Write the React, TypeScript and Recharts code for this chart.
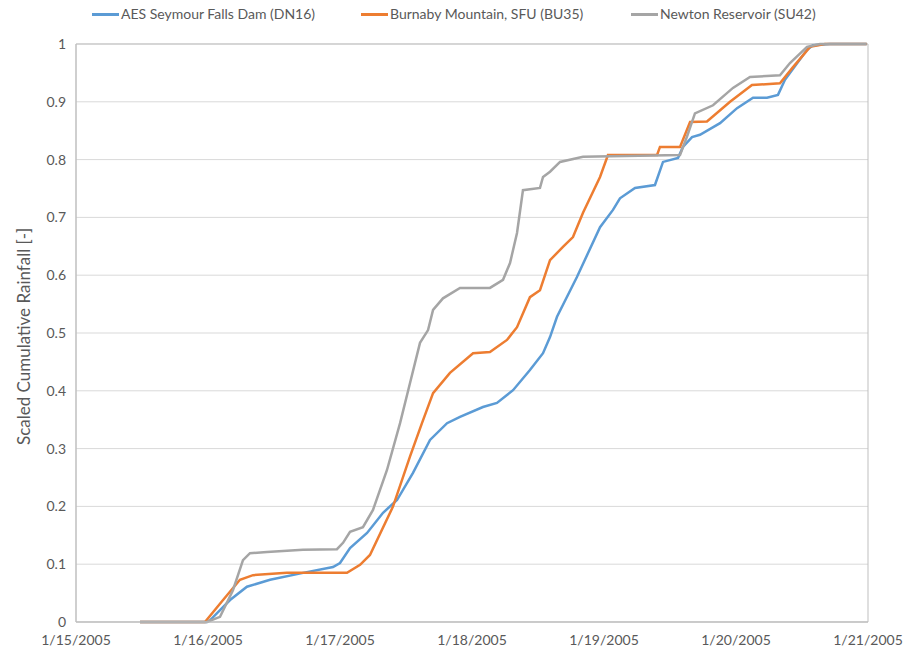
import React from 'react';
import { LineChart, Line, XAxis, YAxis, CartesianGrid, ReferenceArea } from 'recharts';

// days since 1/15/2005, scaled cumulative rainfall
const dn16Days = [0.485, 0.992, 1.015, 1.167, 1.295, 1.47, 1.72, 1.947, 2.0, 2.076, 2.205, 2.326, 2.432, 2.553, 2.682, 2.811, 2.909, 3.083, 3.189, 3.311, 3.439, 3.538, 3.591, 3.644, 3.795, 3.97, 4.068, 4.121, 4.235, 4.386, 4.447, 4.561, 4.598, 4.667, 4.727, 4.879, 5.008, 5.129, 5.235, 5.318, 5.371, 5.538, 5.583, 5.712, 5.99];
const dn16Vals = [0, 0, 0.003, 0.038, 0.061, 0.073, 0.085, 0.095, 0.102, 0.128, 0.154, 0.189, 0.211, 0.258, 0.315, 0.344, 0.355, 0.372, 0.379, 0.401, 0.436, 0.465, 0.493, 0.528, 0.597, 0.683, 0.713, 0.733, 0.751, 0.756, 0.796, 0.803, 0.822, 0.839, 0.843, 0.863, 0.889, 0.907, 0.907, 0.912, 0.938, 0.99, 0.998, 1, 1];

const bu35Days = [0.485, 0.977, 1.114, 1.242, 1.341, 1.598, 2.053, 2.152, 2.227, 2.402, 2.53, 2.621, 2.705, 2.833, 3.008, 3.136, 3.265, 3.341, 3.439, 3.515, 3.591, 3.689, 3.765, 3.841, 3.97, 4.03, 4.402, 4.424, 4.576, 4.652, 4.78, 4.955, 5.121, 5.333, 5.432, 5.561, 5.674, 5.99];
const bu35Vals = [0, 0, 0.038, 0.073, 0.081, 0.085, 0.085, 0.099, 0.116, 0.2, 0.286, 0.344, 0.396, 0.431, 0.465, 0.467, 0.488, 0.51, 0.562, 0.574, 0.626, 0.649, 0.666, 0.708, 0.77, 0.808, 0.808, 0.822, 0.822, 0.865, 0.866, 0.9, 0.929, 0.932, 0.96, 0.995, 1, 1];

const su42Days = [0.485, 0.992, 1.091, 1.189, 1.265, 1.318, 1.447, 1.72, 1.977, 2.023, 2.076, 2.174, 2.25, 2.356, 2.455, 2.53, 2.606, 2.667, 2.705, 2.78, 2.909, 3.136, 3.235, 3.288, 3.341, 3.386, 3.515, 3.538, 3.591, 3.667, 3.841, 4.576, 4.629, 4.689, 4.826, 4.977, 5.106, 5.333, 5.409, 5.538, 5.636, 5.99];
const su42Vals = [0, 0, 0.009, 0.055, 0.107, 0.119, 0.121, 0.125, 0.126, 0.137, 0.156, 0.164, 0.194, 0.263, 0.344, 0.413, 0.483, 0.505, 0.54, 0.56, 0.578, 0.578, 0.592, 0.621, 0.673, 0.747, 0.751, 0.77, 0.779, 0.796, 0.805, 0.808, 0.84, 0.88, 0.894, 0.924, 0.943, 0.946, 0.967, 0.995, 1, 1];

const dateLabels = ['1/15/2005', '1/16/2005', '1/17/2005', '1/18/2005', '1/19/2005', '1/20/2005', '1/21/2005'];
const yTicks = [0, 0.1, 0.2, 0.3, 0.4, 0.5, 0.6, 0.7, 0.8, 0.9, 1];

const series = [
  { name: 'AES Seymour Falls Dam (DN16)', color: '#5B9BD5', days: dn16Days, vals: dn16Vals, left: 92 },
  { name: 'Burnaby Mountain, SFU (BU35)', color: '#ED7D31', days: bu35Days, vals: bu35Vals, left: 361 },
  { name: 'Newton Reservoir (SU42)', color: '#A5A5A5', days: su42Days, vals: su42Vals, left: 631 },
];

const font = 'Lato, "Open Sans", sans-serif';
const textColor = '#595959';

const App = () => {
  return (
    <div style={{ position: 'absolute', left: 0, top: 0, width: 906, height: 651, background: '#fff', fontFamily: font }}>
      {series.map((s) => (
        <div
          key={s.name}
          style={{ position: 'absolute', top: 5, left: s.left, display: 'flex', alignItems: 'center', fontSize: 14, color: textColor, lineHeight: '18px', whiteSpace: 'nowrap' }}
        >
          <span style={{ display: 'inline-block', width: 27, height: 3, background: s.color, marginRight: 2 }} />
          <span>{s.name}</span>
        </div>
      ))}
      <LineChart width={906} height={651} margin={{ top: 44, right: 38, left: 20, bottom: 5 }}>
        <CartesianGrid horizontal={true} vertical={false} stroke='#D9D9D9' />
        <XAxis
          type='number'
          dataKey='d'
          domain={[0, 6]}
          ticks={[0, 1, 2, 3, 4, 5, 6]}
          tickFormatter={(v: number) => dateLabels[v]}
          allowDataOverflow
          height={24}
          axisLine={{ stroke: '#BFBFBF' }}
          tickLine={false}
          tickSize={0}
          tickMargin={13}
          tick={{ fill: textColor, fontSize: 14, fontFamily: font }}
          interval={0}
        />
        <YAxis
          type='number'
          domain={[0, 1]}
          ticks={yTicks}
          width={56}
          axisLine={{ stroke: '#BFBFBF' }}
          tickLine={false}
          tickSize={0}
          tickMargin={10}
          tick={{ fill: textColor, fontSize: 14, fontFamily: font }}
          interval={0}
          label={{ value: 'Scaled Cumulative Rainfall [-]', angle: -90, position: 'insideLeft', offset: 4, dy: 112, style: { fill: textColor, fontSize: 17, fontFamily: font } }}
        />
        <ReferenceArea x1={0} x2={6} y1={0} y2={1} fill='none' stroke='#BFBFBF' strokeWidth={1} ifOverflow='visible' />
        {series.map((s) => (
          <Line
            key={s.name}
            data={s.days.map((d, i) => ({ d, v: s.vals[i] }))}
            dataKey='v'
            type='linear'
            stroke={s.color}
            strokeWidth={2.5}
            dot={false}
            isAnimationActive={false}
          />
        ))}
      </LineChart>
    </div>
  );
};

export default App;
